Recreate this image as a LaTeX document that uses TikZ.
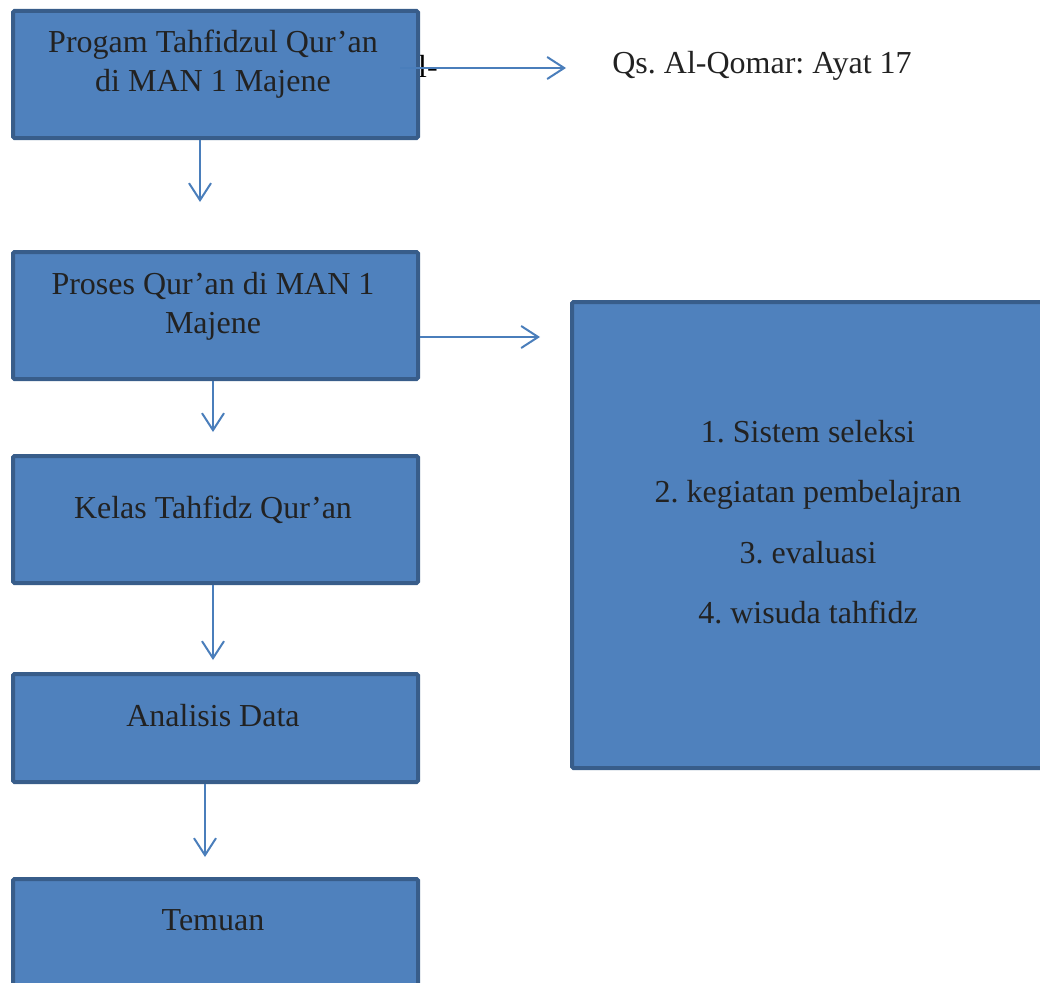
\documentclass[tikz,border=0pt]{standalone}
\usepackage{fontspec}
\setmainfont{Liberation Serif}
\usetikzlibrary{arrows.meta}
\definecolor{boxfill}{HTML}{4F81BD}
\definecolor{boxline}{HTML}{385D8A}
\definecolor{arrowc}{HTML}{4A7EBB}
\definecolor{txt}{HTML}{222222}
\frenchspacing
\begin{document}
\begin{tikzpicture}[x=1pt,y=-1pt,
  box/.style={draw=boxline, fill=boxfill, line width=4pt, rounded corners=1.5pt, anchor=north west, inner sep=0pt, minimum width=405pt},
  lbl/.style={text=txt, font=\fontsize{32}{39}\selectfont, align=center, inner sep=0pt},
  conn/.style={draw=arrowc, line width=2pt, -{Straight Barb[length=17pt,width=22pt,line width=2pt]}}]
\useasboundingbox (0,0) rectangle (1040,982);
\clip (0,0) rectangle (1040,982);
% stray text fragment
\node[lbl, anchor=west, text=black] (frag) at (418,66) {l-};
% boxes
\node[box, minimum height=127pt] (b1) at (11,9) {};
\node[box, minimum height=127pt] (b2) at (11,250) {};
\node[box, minimum height=127pt] (b3) at (11,454) {};
\node[box, minimum height=108pt] (b4) at (11,672) {};
\node[box, minimum height=127pt] (b5) at (11,877) {};
\node[box, minimum width=500pt, minimum height=466pt] (big) at (570,300) {};
% texts
\node[lbl] (t1) at (213,64) {Progam Tahfidzul Qur’an\\di MAN 1 Majene};
\node[lbl] (t2) at (213,306) {Proses Qur’an di MAN 1\\Majene};
\node[lbl] (t3) at (213,510) {Kelas Tahfidz Qur’an};
\node[lbl] (t4) at (213,716) {Analisis Data};
\node[lbl] (t5) at (213,920) {Temuan};
\node[lbl, font=\fontsize{32}{60.5}\selectfont] (tbig) at (808,522) {1. Sistem seleksi\\2. kegiatan pembelajran\\3. evaluasi\\4. wisuda tahfidz};
\node[lbl] (qs) at (762,66) {Qs. Al-Qomar: Ayat 17};
% connectors
\coordinate (e1) at (200,202);
\coordinate (e2) at (213,432);
\coordinate (e3) at (213,660);
\coordinate (e4) at (205,857);
\coordinate (s5) at (400,68);
\coordinate (e5) at (566,68);
\coordinate (e6) at (540,337);
\draw[conn] (b1.south -| e1) -- (e1);
\draw[conn] (b2.south -| e2) -- (e2);
\draw[conn] (b3.south -| e3) -- (e3);
\draw[conn] (b4.south -| e4) -- (e4);
\draw[conn] (s5) -- (e5);
\draw[conn] (b2.east |- e6) -- (e6);
\end{tikzpicture}
\end{document}
